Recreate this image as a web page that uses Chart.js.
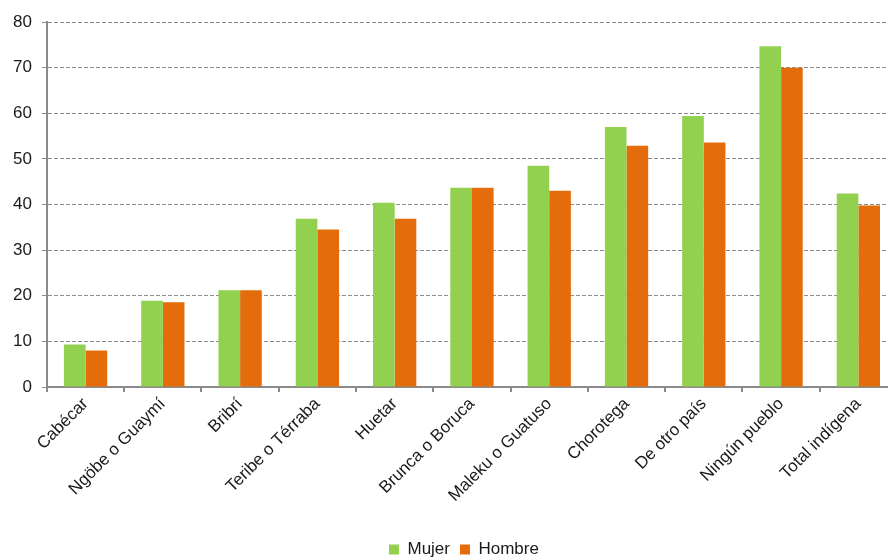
<!DOCTYPE html>
<html>
<head>
<meta charset="utf-8">
<script src="https://cdn.jsdelivr.net/npm/chart.js@4"></script>
<style>
  html, body { margin: 0; padding: 0; background: #fff; overflow: hidden; }
  #wrap { width: 888px; height: 560px; overflow: hidden; }
  #box { width: 897px; height: 560px; }
</style>
</head>
<body>
<div id="wrap"><div id="box"><canvas id="chart"></canvas></div></div>
<script>
// Porcentaje por pueblo indígena y sexo
const categories = [
  'Cabécar', 'Ngöbe o Guaymí', 'Bribrí', 'Teribe o Térraba', 'Huetar',
  'Brunca o Boruca', 'Maleku o Guatuso', 'Chorotega', 'De otro país',
  'Ningún pueblo', 'Total indígena'
];
const mujer = [9.3, 18.9, 21.2, 36.9, 40.4, 43.7, 48.5, 57.0, 59.4, 74.7, 42.4];
const hombre = [8.0, 18.6, 21.2, 34.5, 36.9, 43.7, 43.0, 52.9, 53.6, 70.0, 39.8];
const yTicks = [0, 10, 20, 30, 40, 50, 60, 70, 80];

const font = { family: "'Liberation Sans', Arial, sans-serif", size: 17 };
const axisGray = '#8a8a8a';

Chart.defaults.font.family = font.family;
Chart.defaults.color = '#1a1a1a';

// move the legend down and a little left of the plot centre
const legendShift = {
  id: 'legendShift',
  afterLayout(chart) {
    const lg = chart.legend;
    if (!lg) return;
    lg.left -= 8;
    lg.right -= 8;
    lg.top += 8;
    lg.bottom += 8;
  },
};

new Chart(document.getElementById('chart'), {
  type: 'bar',
  data: {
    labels: categories,
    datasets: [
      { label: 'Mujer', data: mujer, backgroundColor: '#92d050' },
      { label: 'Hombre', data: hombre, backgroundColor: '#e46c0a' },
    ],
  },
  plugins: [legendShift],
  options: {
    responsive: true,
    maintainAspectRatio: false,
    animation: false,
    layout: { padding: { left: 3, top: 22, right: 0, bottom: 0 } },
    datasets: { bar: { categoryPercentage: 0.56, barPercentage: 1 } },
    plugins: {
      tooltip: { enabled: false },
      legend: {
        position: 'bottom',
        fullSize: false,
        labels: { boxWidth: 10, boxHeight: 10, padding: 10, font },
      },
    },
    scales: {
      x: {
        grid: { offset: true, drawOnChartArea: false, color: axisGray, tickLength: 5, lineWidth: 2 },
        border: { color: axisGray, width: 2 },
        ticks: { font, minRotation: 45, maxRotation: 45, padding: 2 },
        afterFit: (scale) => { scale.height += 15; },
      },
      y: {
        min: 0,
        max: 80,
        afterBuildTicks: (axis) => { axis.ticks = yTicks.map((v) => ({ value: v })); },
        grid: { color: '#8c8c8c', lineWidth: 1, tickLength: 5, tickBorderDash: [] },
        border: { color: axisGray, width: 2, dash: [4, 2] },
        ticks: { font, padding: 10 },
      },
    },
  },
});
</script>
</body>
</html>
